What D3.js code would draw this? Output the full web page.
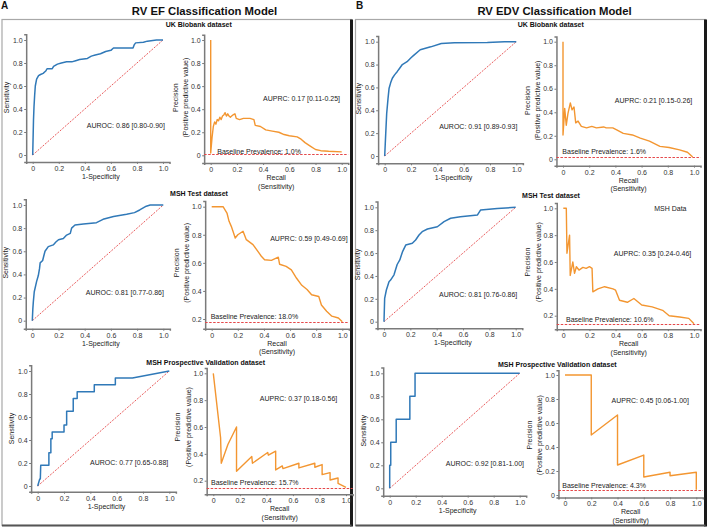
<!DOCTYPE html>
<html><head><meta charset="utf-8">
<script src="https://cdn.jsdelivr.net/npm/d3@7/dist/d3.min.js"></script>
<style>
body{margin:0;background:#fff}
svg{display:block}
text{font-family:"Liberation Sans",Arial,Helvetica,sans-serif}
</style>
</head><body>
<svg id="chart" width="709" height="528"></svg>
<script>
// ---------------- DATA ----------------
const xTicks = [0, 0.2, 0.4, 0.6, 0.8, 1.0];
const yTicksFull = [0, 0.2, 0.4, 0.6, 0.8, 1.0];
const yTicksHigh = [0.2, 0.4, 0.6, 0.8, 1.0];
const panelLetters = ["A", "B"];
const modelTitles = ["RV EF Classification Model", "RV EDV Classification Model"];
const datasetNames = ["UK Biobank dataset", "MSH Test dataset", "MSH Prospective Validation dataset"];

// [model][dataset]
const aurocText = [
  ["AUROC: 0.86 [0.80-0.90]", "AUROC: 0.81 [0.77-0.86]", "AUROC: 0.77 [0.65-0.88]"],
  ["AUROC: 0.91 [0.89-0.93]", "AUROC: 0.81 [0.76-0.86]", "AUROC: 0.92 [0.81-1.00]"]
];
const auprcText = [
  ["AUPRC: 0.17 [0.11-0.25]", "AUPRC: 0.59 [0.49-0.69]", "AUPRC: 0.37 [0.18-0.56]"],
  ["AUPRC: 0.21 [0.15-0.26]", "AUPRC: 0.35 [0.24-0.46]", "AUPRC: 0.45 [0.06-1.00]"]
];
const baselineText = [
  ["Baseline Prevalence: 1.0%", "Baseline Prevalence: 18.0%", "Baseline Prevalence: 15.7%"],
  ["Baseline Prevalence: 1.6%", "Baseline Prevalence: 10.6%", "Baseline Prevalence: 4.3%"]
];
// level at which the dashed prevalence line is drawn
const baselineLevel = [
  [0.01, 0.18, 0.145],
  [0.016, 0.14, 0.043]
];
const extraNote = "MSH Data";

// ROC curves [1-specificity, sensitivity]
const rocEfUkb = [[0,0],[0.003,0.15],[0.006,0.3],[0.01,0.42],[0.015,0.52],[0.02,0.6],[0.03,0.66],[0.045,0.69],[0.06,0.70],[0.08,0.71],[0.1,0.73],[0.11,0.75],[0.15,0.75],[0.16,0.77],[0.19,0.79],[0.22,0.80],[0.26,0.81],[0.3,0.81],[0.33,0.82],[0.36,0.83],[0.42,0.84],[0.45,0.86],[0.48,0.87],[0.52,0.88],[0.56,0.90],[0.6,0.91],[0.62,0.93],[0.77,0.93],[0.78,0.96],[0.79,0.975],[0.85,0.98],[0.88,0.99],[0.95,1.0],[1,1]];
const rocEfMsh = [[0,0],[0.004,0.1],[0.008,0.165],[0.015,0.25],[0.033,0.34],[0.046,0.39],[0.055,0.45],[0.06,0.5],[0.079,0.52],[0.09,0.57],[0.097,0.6],[0.122,0.64],[0.16,0.655],[0.18,0.68],[0.2,0.70],[0.237,0.71],[0.262,0.74],[0.29,0.755],[0.30,0.80],[0.326,0.827],[0.39,0.836],[0.49,0.847],[0.54,0.876],[0.62,0.90],[0.72,0.92],[0.78,0.934],[0.82,0.957],[0.87,0.99],[0.9,1.0],[1,1]];
const rocEfPros = [[0,0],[0.015,0.06],[0.02,0.06],[0.023,0.18],[0.085,0.18],[0.085,0.29],[0.1,0.29],[0.1,0.41],[0.11,0.41],[0.11,0.47],[0.2,0.47],[0.2,0.53],[0.22,0.53],[0.22,0.65],[0.27,0.65],[0.27,0.76],[0.3,0.76],[0.3,0.82],[0.43,0.82],[0.43,0.88],[0.59,0.88],[0.59,0.94],[0.72,0.94],[1,1]];
const rocEdvUkb = [[0,0],[0.004,0.1],[0.008,0.2],[0.015,0.37],[0.025,0.5],[0.033,0.59],[0.045,0.64],[0.058,0.68],[0.075,0.71],[0.096,0.74],[0.115,0.77],[0.134,0.80],[0.17,0.825],[0.2,0.86],[0.22,0.88],[0.27,0.93],[0.35,0.955],[0.43,0.985],[0.53,0.99],[0.78,0.994],[0.91,1.0],[1,1]];
const rocEdvMsh = [[0,0],[0.005,0.204],[0.018,0.277],[0.038,0.35],[0.05,0.364],[0.076,0.41],[0.1,0.5],[0.12,0.54],[0.14,0.61],[0.165,0.67],[0.215,0.685],[0.24,0.714],[0.266,0.758],[0.29,0.787],[0.33,0.81],[0.405,0.83],[0.456,0.875],[0.506,0.904],[0.58,0.918],[0.71,0.933],[0.734,0.977],[0.86,0.99],[1,1]];
const rocEdvPros = [[0,0],[0,0.2],[0.008,0.2],[0.008,0.4],[0.05,0.4],[0.05,0.6],[0.155,0.6],[0.155,0.8],[0.195,0.8],[0.195,1.0],[1,1]];

// PR curves [recall, precision]
const prEfUkb = [[0,1.0],[0,0.02],[0.01,0.15],[0.02,0.25],[0.03,0.29],[0.04,0.27],[0.05,0.31],[0.06,0.30],[0.07,0.33],[0.08,0.31],[0.09,0.34],[0.1,0.35],[0.11,0.37],[0.12,0.34],[0.13,0.36],[0.14,0.34],[0.15,0.33],[0.16,0.34],[0.17,0.35],[0.185,0.36],[0.195,0.32],[0.22,0.31],[0.25,0.32],[0.3,0.32],[0.33,0.31],[0.34,0.26],[0.38,0.25],[0.42,0.22],[0.47,0.21],[0.52,0.20],[0.56,0.18],[0.6,0.17],[0.66,0.16],[0.69,0.14],[0.72,0.11],[0.76,0.08],[0.8,0.05],[0.84,0.04],[0.9,0.035],[1.0,0.03]];
const prEfMsh = [[0,1.0],[0.087,1.0],[0.117,0.955],[0.133,0.896],[0.15,0.86],[0.163,0.825],[0.18,0.777],[0.2,0.80],[0.24,0.825],[0.265,0.765],[0.316,0.73],[0.355,0.68],[0.38,0.647],[0.405,0.622],[0.457,0.618],[0.51,0.64],[0.52,0.59],[0.57,0.575],[0.61,0.55],[0.65,0.49],[0.69,0.44],[0.73,0.41],[0.765,0.373],[0.82,0.36],[0.84,0.30],[0.88,0.255],[0.92,0.22],[0.97,0.207],[1.0,0.18]];
const prEfPros = [[0,1.0],[0.055,0.52],[0.06,0.33],[0.11,0.47],[0.175,0.60],[0.175,0.27],[0.29,0.38],[0.295,0.33],[0.41,0.41],[0.415,0.39],[0.47,0.42],[0.47,0.28],[0.52,0.31],[0.525,0.29],[0.645,0.33],[0.645,0.295],[0.765,0.33],[0.765,0.30],[0.82,0.32],[0.82,0.245],[0.88,0.26],[0.88,0.205],[0.94,0.22],[0.94,0.18],[1.0,0.15]];
const prEdvUkb = [[0,1.0],[0,0.206],[0.013,0.433],[0.025,0.29],[0.038,0.39],[0.056,0.48],[0.069,0.42],[0.084,0.445],[0.097,0.31],[0.115,0.325],[0.14,0.28],[0.18,0.267],[0.22,0.28],[0.255,0.267],[0.31,0.275],[0.33,0.267],[0.38,0.267],[0.41,0.25],[0.46,0.22],[0.53,0.207],[0.59,0.18],[0.66,0.155],[0.74,0.11],[0.81,0.10],[0.89,0.08],[0.95,0.06],[0.99,0.02]];
const prEdvMsh = [[0,1.0],[0.023,1.0],[0.028,0.665],[0.048,0.80],[0.053,0.50],[0.073,0.60],[0.086,0.515],[0.1,0.565],[0.12,0.54],[0.15,0.56],[0.175,0.553],[0.2,0.565],[0.22,0.553],[0.226,0.378],[0.265,0.40],[0.316,0.416],[0.38,0.40],[0.40,0.39],[0.43,0.315],[0.49,0.30],[0.54,0.328],[0.6,0.28],[0.68,0.266],[0.76,0.24],[0.81,0.20],[0.89,0.19],[0.96,0.18],[1.0,0.14]];
const prEdvPros = [[0,1],[0.2,1],[0.2,0.5],[0.4,0.667],[0.4,0.25],[0.6,0.333],[0.6,0.15],[0.8,0.19],[0.8,0.16],[1.0,0.19],[1.0,0.043]];

const rocData = [[rocEfUkb, rocEfMsh, rocEfPros], [rocEdvUkb, rocEdvMsh, rocEdvPros]];
const prData = [[prEfUkb, prEfMsh, prEfPros], [prEdvUkb, prEdvMsh, prEdvPros]];

// ---------------- LAYOUT (pixel anchors, not data) ----------------
const layout = [
  [
    { roc:{xa:[32.7,163], ya:[0,155,40], yExt:[-0.06,1.05], auroc:[1.015,0.26]},
      pr:{xa:[210.7,341.7], ya:[0,155.3,40], yExt:[-0.067,1.045], ticks:"full", auprc:[0.987,0.494], base:[0.05,0.031]},
      sub:[198.7,26.5] },
    { roc:{xa:[32.3,163.3], ya:[0,320.7,205], yExt:[-0.07,1.05], auroc:[1.005,0.242]},
      pr:{xa:[211.7,342.3], ya:[0.2,319,206.7], yExt:[0.13,1.04], ticks:"high", auprc:[1.041,0.775], base:[-0.008,0.2165]},
      sub:[199,196] },
    { roc:{xa:[37.7,169.3], ya:[0,486,371], yExt:[-0.05,1.05], auroc:[0.992,0.206]},
      pr:{xa:[213.3,346], ya:[0.2,480.7,373.3], yExt:[0.1,1.04], ticks:"high", auprc:[0.934,0.809], base:[-0.017,0.19]},
      sub:[205.7,365] }
  ],
  [
    { roc:{xa:[384.7,516.3], ya:[0,156,41.7], yExt:[-0.064,1.05], auroc:[1.008,0.256]},
      pr:{xa:[563,694], ya:[0,159.3,41.7], yExt:[-0.054,1.045], ticks:"full", auprc:[0.987,0.504], base:[-0.005,0.065]},
      sub:[550.7,26.8] },
    { roc:{xa:[384,515.7], ya:[0,321.7,207.3], yExt:[-0.058,1.05], auroc:[1.012,0.242]},
      pr:{xa:[563.3,694], ya:[0.2,315.7,208.3], yExt:[0.1,1.04], ticks:"high", auprc:[0.979,0.66], base:[0.021,0.168], note:[0.819,0.995]},
      sub:[551,197.5] },
    { roc:{xa:[389.7,519.7], ya:[0,488.3,373.3], yExt:[-0.064,1.05], auroc:[1.033,0.217]},
      pr:{xa:[565,696.3], ya:[0,495,375], yExt:[-0.02,1.04], ticks:"full", auprc:[0.944,0.79], base:[-0.021,0.083]},
      sub:[557.3,366.5] }
  ]
];
const frames = [{x:2,y:19.5,w:349.5,h:506}, {x:355.5,y:19.5,w:350,h:506}];
const titlePos = [[204.5,14.5],[554.5,14.5]];
const letterPos = [[1,9],[356,9]];

// ---------------- DRAW ----------------
const svg = d3.select("#chart");
const BLUE = "#3079b8", ORANGE = "#f39631", RED = "#e5484a", SPINE = "#7a7a7a", TXT = "#222";
const xExt = [-0.05, 1.05];
const fmt = d => d === 0 ? "0" : d3.format(".1f")(d);

frames.forEach(f => {
  svg.append("rect").attr("x", f.x).attr("y", f.y).attr("width", f.w).attr("height", f.h)
    .attr("fill", "#fff").attr("stroke", "#a8a8a8").attr("stroke-width", 1.2);
  svg.append("line").attr("x1", f.x + f.w).attr("x2", f.x + f.w).attr("y1", f.y).attr("y2", f.y + f.h + 1)
    .attr("stroke", "#1a1a1a").attr("stroke-width", 3);
  svg.append("line").attr("x1", f.x).attr("x2", f.x + f.w).attr("y1", f.y + f.h).attr("y2", f.y + f.h)
    .attr("stroke", "#555").attr("stroke-width", 2);
});

modelTitles.forEach((t, i) => {
  svg.append("text").attr("x", titlePos[i][0]).attr("y", titlePos[i][1]).attr("text-anchor", "middle")
    .attr("font-size", 11.3).attr("font-weight", "bold").attr("fill", "#111").text(t);
  svg.append("text").attr("x", letterPos[i][0]).attr("y", letterPos[i][1])
    .attr("font-size", 10).attr("font-weight", "bold").attr("fill", "#111").text(panelLetters[i]);
});

function makeScales(cfg) {
  const bx = d3.scaleLinear().domain([0, 1]).range(cfg.xa);
  const by = d3.scaleLinear().domain([cfg.ya[0], 1]).range([cfg.ya[1], cfg.ya[2]]);
  const x = d3.scaleLinear().domain(xExt).range(xExt.map(bx));
  const y = d3.scaleLinear().domain(cfg.yExt).range(cfg.yExt.map(by));
  return {x, y};
}

function drawAxes(g, x, y, yTicks) {
  const xa = g.append("g").attr("transform", `translate(0,${y(y.domain()[0])})`)
    .call(d3.axisBottom(x).tickValues(xTicks).tickFormat(fmt).tickSizeOuter(0).tickSize(2).tickPadding(2));
  const ya = g.append("g").attr("transform", `translate(${x(xExt[0])},0)`)
    .call(d3.axisLeft(y).tickValues(yTicks).tickFormat(fmt).tickSizeOuter(0).tickSize(2).tickPadding(1.5));
  [xa, ya].forEach(a => {
    a.select(".domain").attr("stroke", SPINE).attr("stroke-width", 1.5);
    a.selectAll(".tick line").attr("stroke", SPINE).attr("stroke-width", 1);
    a.selectAll(".tick text").attr("font-size", 7).attr("fill", "#333")
      .attr("font-family", '"Liberation Sans",Arial,sans-serif');
  });
}

function label(g, txt, x, y, anchor, size, weight) {
  return g.append("text").attr("x", x).attr("y", y).attr("text-anchor", anchor || "start")
    .attr("dominant-baseline", "central").attr("font-size", size || 7)
    .attr("font-weight", weight || "normal").attr("fill", TXT).text(txt);
}

const line = (x, y) => d3.line().x(d => x(d[0])).y(d => y(d[1]));

for (let m = 0; m < 2; m++) {
  for (let r = 0; r < 3; r++) {
    const L = layout[m][r];
    const g = svg.append("g");
    g.append("text").attr("x", L.sub[0]).attr("y", L.sub[1]).attr("text-anchor", "middle")
      .attr("font-size", 7).attr("font-weight", "bold").attr("fill", "#111").text(datasetNames[r]);

    {
      const {x, y} = makeScales(L.roc);
      drawAxes(g, x, y, yTicksFull);
      g.append("line").attr("x1", x(0)).attr("y1", y(0)).attr("x2", x(1)).attr("y2", y(1))
        .attr("stroke", RED).attr("stroke-width", 0.9).attr("stroke-dasharray", "2,1.3");
      g.append("path").datum(rocData[m][r]).attr("d", line(x, y))
        .attr("fill", "none").attr("stroke", BLUE).attr("stroke-width", 1.5).attr("stroke-linejoin", "round");
      label(g, aurocText[m][r], x(L.roc.auroc[0]), y(L.roc.auroc[1]), "end");
      const ax = x(xExt[0]);
      const ymid = (y(0) + y(1)) / 2;
      g.append("text").attr("transform", `translate(${ax - 20},${ymid}) rotate(-90)`)
        .attr("text-anchor", "middle").attr("dominant-baseline", "central").attr("font-size", 7)
        .attr("fill", TXT).text("Sensitivity");
      g.append("text").attr("x", x(0.5) + 3).attr("y", y(y.domain()[0]) + 17).attr("text-anchor", "middle")
        .attr("font-size", 7).attr("fill", TXT).text("1-Specificity");
    }
    {
      const c = L.pr;
      const {x, y} = makeScales(c);
      drawAxes(g, x, y, c.ticks === "full" ? yTicksFull : yTicksHigh);
      const by = Math.round(y(baselineLevel[m][r])) + 0.5;
      g.append("line").attr("x1", x(xExt[0])).attr("x2", x(xExt[1]))
        .attr("y1", by).attr("y2", by)
        .attr("stroke", RED).attr("stroke-width", 1).attr("stroke-dasharray", "2.5,1.5");
      g.append("path").datum(prData[m][r]).attr("d", line(x, y))
        .attr("fill", "none").attr("stroke", ORANGE).attr("stroke-width", 1.4).attr("stroke-linejoin", "round");
      label(g, auprcText[m][r], x(c.auprc[0]), y(c.auprc[1]), "end");
      label(g, baselineText[m][r], x(c.base[0]), y(c.base[1]), "start");
      if (c.note) label(g, extraNote, x(c.note[0]), y(c.note[1]), "middle");
      const ax = x(xExt[0]);
      const ymid = (y(c.ya[0]) + y(1)) / 2;
      const yl = g.append("text").attr("transform", `translate(${ax - 23},${ymid}) rotate(-90)`)
        .attr("text-anchor", "middle").attr("font-size", 7).attr("fill", TXT);
      yl.append("tspan").attr("x", 0).attr("dy", "-0.5em").text("Precision");
      yl.append("tspan").attr("x", 0).attr("dy", "1.15em").attr("dominant-baseline", "central").text("(Positive predictive value)");
      const bx = y(y.domain()[0]);
      g.append("text").attr("x", x(0.5)).attr("y", bx + 17).attr("text-anchor", "middle")
        .attr("font-size", 7).attr("fill", TXT).text("Recall");
      g.append("text").attr("x", x(0.5)).attr("y", bx + 25.5).attr("text-anchor", "middle")
        .attr("font-size", 7).attr("fill", TXT).text("(Sensitivity)");
    }
  }
}
</script>
</body></html>
